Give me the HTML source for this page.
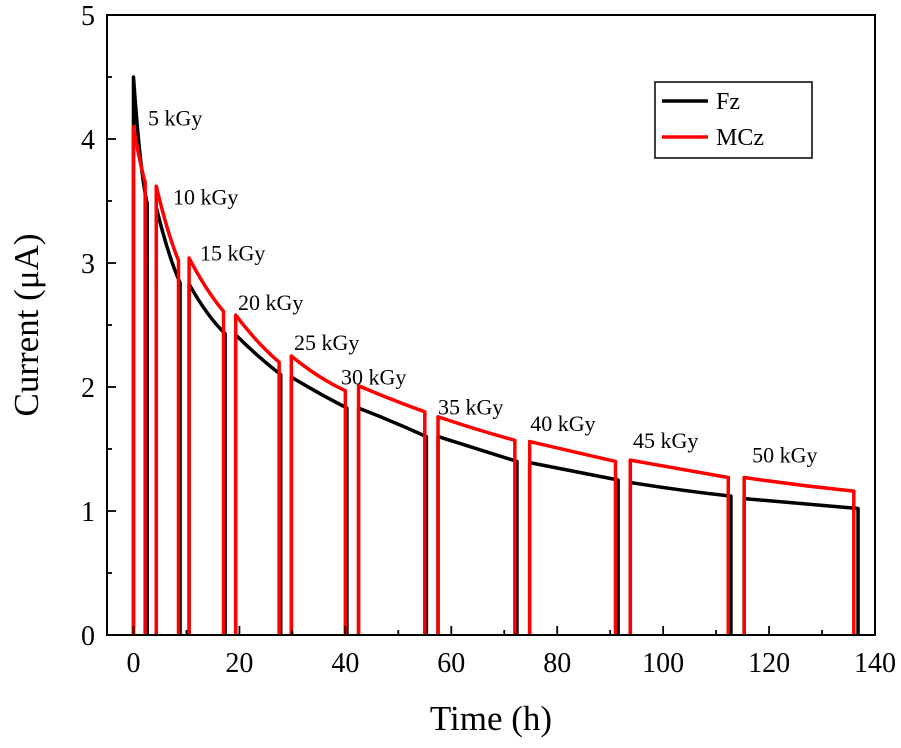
<!DOCTYPE html>
<html><head><meta charset="utf-8"><style>
body{margin:0;background:#fff}
svg text{font-family:"Liberation Serif",serif;fill:#000}
</style></head><body>
<svg id="chart" width="901" height="743" xmlns="http://www.w3.org/2000/svg">
<g id="marks"></g>
<rect x="107" y="15" width="768" height="620" fill="none" stroke="#000" stroke-width="2"/>
<g id="axes"></g>
<text x="491" y="730" font-size="35" text-anchor="middle">Time (h)</text>
<text transform="translate(38,325) rotate(-90)" font-size="35" text-anchor="middle">Current (μA)</text>
<g>
<rect x="655" y="82" width="157" height="76" fill="#fff" stroke="#000" stroke-width="1.5"/>
<line x1="662" y1="101" x2="708" y2="101" stroke="#000" stroke-width="3.5"/>
<text x="716" y="109" font-size="24">Fz</text>
<line x1="662" y1="137" x2="708" y2="137" stroke="#f00" stroke-width="3.5"/>
<text x="716" y="145" font-size="24">MCz</text>
</g>
<g id="ann"></g>
</svg>
<script>
const redStartT=[0,4.3,10.5,19.3,29.8,42.5,57.5,74.8,93.8,115.3];
const redEndT=[2.2,8.5,17,27.5,40,55,72,91,112.3,136];
const redStartV=[4.1,3.62,3.04,2.58,2.25,2.01,1.76,1.56,1.41,1.27];
const redMidV=[3.85,3.28,2.8,2.37,2.09,1.9,1.66,1.48,1.34,1.21];
const redEndV=[3.65,3.02,2.61,2.2,1.97,1.8,1.57,1.40,1.27,1.16];
const fzStartT=[0,4.3,10.5,19.3,29.8,42.5,57.5,74.8,93.8,115.3];
const fzEndT=[2.6,8.8,17.3,27.8,40.3,55.3,72.4,91.5,112.8,136.8];
const fzStartV=[4.5,3.45,2.83,2.42,2.08,1.83,1.6,1.39,1.23,1.1];
const fzMidV=[3.85,3.1,2.6,2.25,1.95,1.72,1.5,1.32,1.17,1.06];
const fzEndV=[3.48,2.84,2.43,2.1,1.83,1.6,1.4,1.25,1.12,1.02];
const xTicks=[0,20,40,60,80,100,120,140];
const yTicks=[0,1,2,3,4,5];
const doseLabels=["5 kGy","10 kGy","15 kGy","20 kGy","25 kGy","30 kGy","35 kGy","40 kGy","45 kGy","50 kGy"];
const doseX=[2.74,7.46,12.56,19.73,30.31,39.18,57.5,74.9,94.3,116.8];
const doseY=[4.11,3.47,3.02,2.62,2.30,2.02,1.78,1.645,1.51,1.39];

const NS="http://www.w3.org/2000/svg";
const X=v=>107+(v+5)*768/145;
const Y=v=>635-v*124;
function mk(tag,attrs,parent){const e=document.createElementNS(NS,tag);for(const k in attrs)e.setAttribute(k,attrs[k]);parent.appendChild(e);return e;}
const marks=document.getElementById('marks'),axes=document.getElementById('axes'),ann=document.getElementById('ann');
function drawSeries(sT,eT,sV,mV,eV,color,name){
  for(let i=0;i<sT.length;i++){
    const x0=X(sT[i]),x1=X(eT[i]),y0=Y(sV[i]),y1=Y(eV[i]),ym=Y(mV[i]);
    const cx=2*X((sT[i]+eT[i])/2)-(x0+x1)/2, cy=2*ym-(y0+y1)/2;
    const p=mk('path',{d:`M${x0},${Y(0)} L${x0},${y0} Q${cx},${cy} ${x1},${y1} L${x1},${Y(0)}`,fill:'none',stroke:color,'stroke-width':3.5,'stroke-linejoin':'round'},marks);
    
    
  }
}
drawSeries(fzStartT,fzEndT,fzStartV,fzMidV,fzEndV,'#000','fz');
drawSeries(redStartT,redEndT,redStartV,redMidV,redEndV,'#f00','mcz');
for(let v=0;v<=140;v+=10){
  const major=v%20===0,len=major?9:5;
  const t=mk('line',{x1:X(v),x2:X(v),y1:635,y2:635-len,stroke:'#000','stroke-width':1.8},axes);
  
  
}
xTicks.forEach(v=>{const t=mk('text',{x:X(v),y:672,'font-size':28,'text-anchor':'middle'},axes);t.textContent=v;
  
  });
for(let v=0;v<=5;v+=0.5){
  const major=Number.isInteger(v),len=major?9:5;
  const t=mk('line',{x1:107,x2:107+len,y1:Y(v),y2:Y(v),stroke:'#000','stroke-width':1.8},axes);
  
  
}
yTicks.forEach(v=>{const t=mk('text',{x:95,y:Y(v)+10,'font-size':28,'text-anchor':'end'},axes);t.textContent=v;
  
  });
doseLabels.forEach((s,i)=>{const t=mk('text',{x:X(doseX[i]),y:Y(doseY[i]),'font-size':22},ann);t.textContent=s;
  
  });
</script>
</body></html>
